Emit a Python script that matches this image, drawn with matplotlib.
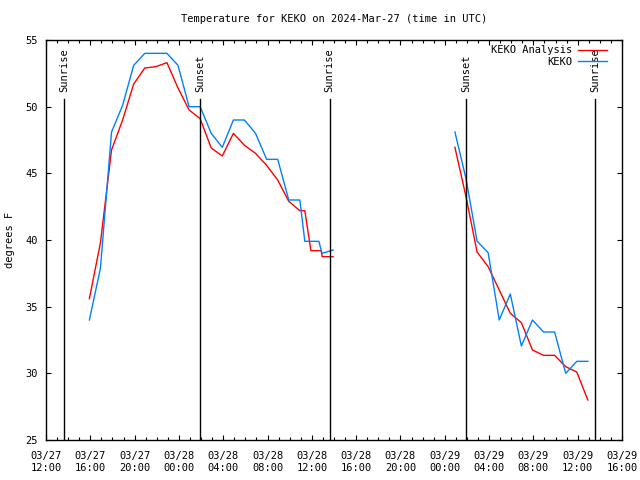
import numpy as np
import pandas as pd
import matplotlib
matplotlib.use('Agg')
import matplotlib.pyplot as plt
import matplotlib.dates as mdates
import matplotlib.transforms as mtransforms

# KEKO observations (blue); NaN marks the gap with no data
keko_tider = ['2024-03-27 15:55', '2024-03-27 16:55', '2024-03-27 17:55', '2024-03-27 18:55',
              '2024-03-27 19:55', '2024-03-27 20:55', '2024-03-27 21:55', '2024-03-27 22:55',
              '2024-03-27 23:55', '2024-03-28 00:55', '2024-03-28 01:55', '2024-03-28 02:55',
              '2024-03-28 03:55', '2024-03-28 04:55', '2024-03-28 05:55', '2024-03-28 06:55',
              '2024-03-28 07:55', '2024-03-28 08:55', '2024-03-28 09:55', '2024-03-28 10:55',
              '2024-03-28 11:22', '2024-03-28 12:38', '2024-03-28 12:55', '2024-03-28 13:55',
              '2024-03-28 18:00',
              '2024-03-29 00:55', '2024-03-29 01:55', '2024-03-29 02:55', '2024-03-29 03:55',
              '2024-03-29 04:55', '2024-03-29 05:55', '2024-03-29 06:55', '2024-03-29 07:55',
              '2024-03-29 08:55', '2024-03-29 09:55', '2024-03-29 10:55', '2024-03-29 11:55',
              '2024-03-29 12:55']
keko_temp = [34.0, 37.9, 48.1, 50.1, 53.1, 54.0, 54.0, 54.0, 53.1, 50.0, 50.0, 48.0,
             46.95, 49.0, 49.0, 48.0, 46.05, 46.05, 43.0, 43.0, 39.9, 39.9, 39.0, 39.25,
             np.nan,
             48.1, 44.6, 39.9, 39.05, 34.0, 35.95, 32.05, 34.0, 33.1, 33.1, 30.0, 30.9, 30.9]

# KEKO Analysis (red)
analyse_tider = ['2024-03-27 15:55', '2024-03-27 16:55', '2024-03-27 17:55', '2024-03-27 18:55',
                 '2024-03-27 19:55', '2024-03-27 20:55', '2024-03-27 21:55', '2024-03-27 22:55',
                 '2024-03-27 23:55', '2024-03-28 00:55', '2024-03-28 01:55', '2024-03-28 02:55',
                 '2024-03-28 03:55', '2024-03-28 04:55', '2024-03-28 05:55', '2024-03-28 06:55',
                 '2024-03-28 07:55', '2024-03-28 08:55', '2024-03-28 09:55', '2024-03-28 10:55',
                 '2024-03-28 11:22', '2024-03-28 11:55', '2024-03-28 12:50', '2024-03-28 12:56',
                 '2024-03-28 13:55',
                 '2024-03-28 18:00',
                 '2024-03-29 00:55', '2024-03-29 01:55', '2024-03-29 02:55', '2024-03-29 03:55',
                 '2024-03-29 04:55', '2024-03-29 05:55', '2024-03-29 06:55', '2024-03-29 07:55',
                 '2024-03-29 08:55', '2024-03-29 09:55', '2024-03-29 10:55', '2024-03-29 11:55',
                 '2024-03-29 12:55']
analyse_temp = [35.6, 39.8, 46.75, 49.0, 51.7, 52.9, 53.0, 53.3, 51.4, 49.75, 49.1, 46.9,
                46.3, 48.0, 47.1, 46.5, 45.6, 44.5, 42.9, 42.2, 42.2, 39.2, 39.2, 38.75,
                38.75,
                np.nan,
                46.95, 43.25, 39.1, 38.0, 36.25, 34.5, 33.8, 31.75, 31.35, 31.35, 30.5, 30.1,
                28.0]

# Sunrise / sunset markers
sol_tider = ['2024-03-27 13:38', '2024-03-28 01:55', '2024-03-28 13:36',
             '2024-03-29 01:56', '2024-03-29 13:33']
sol_tekst = ['Sunrise', 'Sunset', 'Sunrise', 'Sunset', 'Sunrise']

x_start = pd.Timestamp('2024-03-27 12:00')
x_slutt = pd.Timestamp('2024-03-29 16:00')

plt.rcParams['font.family'] = 'DejaVu Sans Mono'
plt.rcParams['font.size'] = 7

fig = plt.figure(figsize=(6.4, 4.8), dpi=100)
ax = fig.add_axes([46 / 640, 40 / 480, 576 / 640, 400 / 480])

ax.plot(pd.to_datetime(analyse_tider), analyse_temp, color='#ff0000', lw=1.0,
        label='KEKO Analysis')
ax.plot(pd.to_datetime(keko_tider), keko_temp, color='#0080ff', lw=1.0, label='KEKO')

# Vertikale linjer for soloppgang/solnedgang
trans = mtransforms.blended_transform_factory(ax.transData, ax.transAxes)
for tid, tekst in zip(pd.to_datetime(sol_tider), sol_tekst):
    ax.plot([tid, tid], [0, 0.8525], color='black', lw=1.0, transform=trans)
    ax.text(tid, 0.87, tekst, rotation=90, ha='center', va='bottom',
            transform=trans, fontsize=7.5)

ax.set_xlim(x_start, x_slutt)
ax.set_ylim(25, 55)
ax.set_yticks(range(25, 56, 5))

ax.xaxis.set_major_locator(mdates.HourLocator(byhour=range(0, 24, 4)))
ax.xaxis.set_minor_locator(mdates.HourLocator())
ax.xaxis.set_major_formatter(mdates.DateFormatter('%m/%d\n%H:%M'))

ax.tick_params(which='both', direction='in', top=True, right=True, labelsize=7.5)
ax.tick_params(which='major', length=3.5, width=0.8)
ax.tick_params(which='minor', length=2, width=0.8)
ax.tick_params(axis='x', pad=8)
ax.tick_params(axis='y', pad=6)
for spine in ax.spines.values():
    spine.set_linewidth(1.0)

ax.set_ylabel('degrees F', fontsize=7.5)
ax.yaxis.set_label_coords(-31 / 576, 0.5)
fig.text(334 / 640, 1 - 19 / 480, 'Temperature for KEKO on 2024-Mar-27 (time in UTC)',
         ha='center', va='center', fontsize=7.5)

ax.legend(loc='upper right', bbox_to_anchor=(0.982, 0.997), frameon=False,
          markerfirst=False, fontsize=7.5, handlelength=2.8, handletextpad=0.6,
          labelspacing=0.15, borderaxespad=0.0)

fig.savefig('out.png', dpi=100)
